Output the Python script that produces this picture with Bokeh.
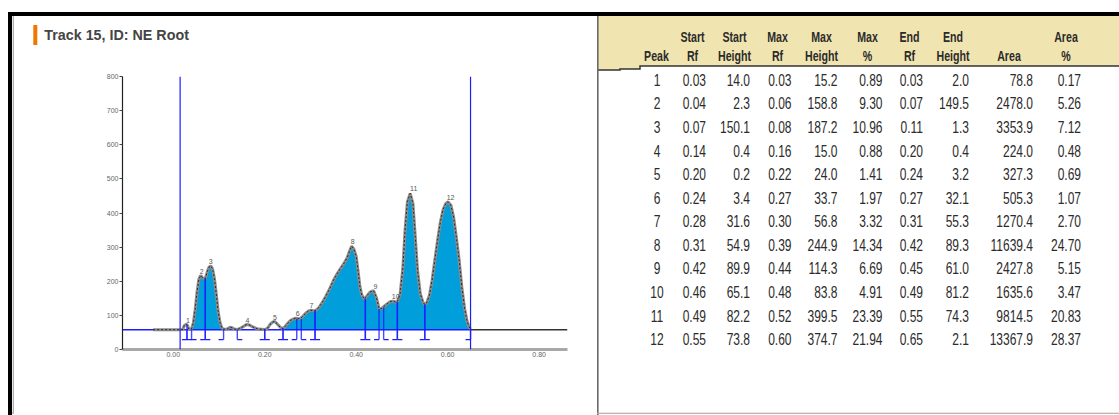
import numpy as np
from bokeh.plotting import figure
from bokeh.layouts import row, column
from bokeh.models import Range1d, FixedTicker, NumeralTickFormatter, Span, Div
from bokeh.core.properties import value
from bokeh.embed import file_html
from bokeh.resources import INLINE

# ---------------- lane 15 densitometry profile: Rf vs height above baseline ----------------
profile_rf = [-0.044, 0.015, 0.021, 0.024, 0.027, 0.030, 0.032, 0.034, 0.040, 0.044,
              0.048, 0.052, 0.056, 0.060, 0.064, 0.070, 0.074, 0.078, 0.082, 0.086,
              0.090, 0.094, 0.098, 0.102, 0.106, 0.110, 0.118, 0.124, 0.128, 0.133,
              0.140, 0.148, 0.155, 0.160, 0.166, 0.174, 0.185, 0.200, 0.206, 0.212,
              0.218, 0.222, 0.228, 0.234, 0.240, 0.245, 0.250, 0.256, 0.262, 0.268,
              0.272, 0.278, 0.284, 0.290, 0.296, 0.300, 0.305, 0.310, 0.318, 0.326,
              0.334, 0.342, 0.350, 0.358, 0.366, 0.374, 0.380, 0.386, 0.390, 0.395,
              0.400, 0.404, 0.408, 0.412, 0.418, 0.424, 0.430, 0.438, 0.444, 0.450,
              0.454, 0.458, 0.466, 0.474, 0.480, 0.486, 0.490, 0.496, 0.502, 0.507,
              0.512, 0.518, 0.524, 0.529, 0.534, 0.540, 0.546, 0.550, 0.554, 0.560,
              0.566, 0.572, 0.578, 0.584, 0.590, 0.596, 0.601, 0.607, 0.613, 0.619,
              0.625, 0.631, 0.637, 0.642, 0.646, 0.650]
profile_h = [0, 0, 1, 12, 15, 15.2, 9, 2, 2.3, 20,
             60, 110, 148, 158.8, 152, 149.5, 168, 183, 187.2, 178,
             150, 105, 55, 22, 6, 1.3, 2, 7, 6, 2,
             0.4, 5, 11, 15.0, 14, 8, 2, 0.4, 4, 16,
             23, 24.0, 16, 7, 3.2, 10, 18, 27, 31, 33.7,
             32.1, 33, 40, 49, 55, 56.8, 56, 55.3, 64, 80,
             99, 120, 144, 163, 180, 196, 210, 232, 244.9, 236,
             215, 172, 128, 102, 89.3, 100, 110, 114.3, 95, 62,
             61.0, 65.1, 74, 82, 83.8, 81.2, 82.2, 104, 180, 295,
             375, 399.5, 370, 275, 175, 106, 80, 74.3, 78, 100,
             145, 205, 262, 315, 352, 370, 374.7, 365, 330, 270,
             205, 124, 62, 28, 10, 2.1]

# ---------------- peak table ----------------
peak_no = list(range(1, 13))
start_rf = [0.03, 0.04, 0.07, 0.14, 0.20, 0.24, 0.28, 0.31, 0.42, 0.46, 0.49, 0.55]
start_h = [14.0, 2.3, 150.1, 0.4, 0.2, 3.4, 31.6, 54.9, 89.9, 65.1, 82.2, 73.8]
max_rf = [0.03, 0.06, 0.08, 0.16, 0.22, 0.27, 0.30, 0.39, 0.44, 0.48, 0.52, 0.60]
max_h = [15.2, 158.8, 187.2, 15.0, 24.0, 33.7, 56.8, 244.9, 114.3, 83.8, 399.5, 374.7]
max_pct = [0.89, 9.30, 10.96, 0.88, 1.41, 1.97, 3.32, 14.34, 6.69, 4.91, 23.39, 21.94]
end_rf = [0.03, 0.07, 0.11, 0.20, 0.24, 0.27, 0.31, 0.42, 0.45, 0.49, 0.55, 0.65]
end_h = [2.0, 149.5, 1.3, 0.4, 3.2, 32.1, 55.3, 89.3, 61.0, 81.2, 74.3, 2.1]
area = [78.8, 2478.0, 3353.9, 224.0, 327.3, 505.3, 1270.4, 11639.4, 2427.8, 1635.6, 9814.5, 13367.9]
area_pct = [0.17, 5.26, 7.12, 0.48, 0.69, 1.07, 2.70, 24.70, 5.15, 3.47, 20.83, 28.37]

head_line1 = ["", "Start", "Start", "Max", "Max", "Max", "End", "End", "", "Area"]
head_line2 = ["Peak", "Rf", "Height", "Rf", "Height", "%", "Rf", "Height", "Area", "%"]

TITLE = "Track 15, ID: NE Root"
x_ticks = [0.0, 0.2, 0.4, 0.6, 0.8]
y_ticks = [0, 100, 200, 300, 400, 500, 600, 700, 800]

BASELINE = 58          # detector baseline level
ORIGIN_RF = 0.015      # application line
FRONT_RF = 0.65        # solvent front
X_LO, X_HI = -0.111, 0.862
MARK_BOTTOM = 29       # level of the peak-boundary feet
CAP = 0.011            # half width of a boundary foot, in Rf
FILL_MIN = 30          # peaks lower than this are outlined only

FONT = "Liberation Sans"
BLUE = "#1c1cff"
INK = "#2b2b2b"

prf = np.array(profile_rf)
ph = np.array(profile_h)

# ======================= chromatogram =======================
p = figure(width=583, height=343, output_backend="svg", toolbar_location=None,
           x_range=Range1d(X_LO, X_HI), y_range=Range1d(0, 800),
           min_border_left=108, min_border_right=30, min_border_top=6, min_border_bottom=64)
p.grid.visible = False
p.outline_line_color = None
p.background_fill_color = "white"
p.border_fill_color = "white"

p.yaxis.ticker = FixedTicker(ticks=y_ticks)
p.yaxis.axis_line_color = "#222222"
p.yaxis.axis_line_width = 1.2
p.yaxis.major_tick_line_color = "#444444"
p.yaxis.major_tick_out = 3
p.yaxis.major_tick_in = 0
p.yaxis.minor_tick_line_color = None
p.yaxis.major_label_standoff = 1
p.xaxis.ticker = FixedTicker(ticks=x_ticks)
p.xaxis.formatter = NumeralTickFormatter(format="0.00")
p.xaxis.axis_line_color = "#a8a8a8"
p.xaxis.axis_line_width = 3
p.xaxis.major_tick_line_color = None
p.xaxis.major_tick_out = 0
p.xaxis.major_tick_in = 0
p.xaxis.minor_tick_line_color = None
p.xaxis.major_label_standoff = 2
for ax in (p.xaxis, p.yaxis):
    ax.major_label_text_font = FONT
    ax.major_label_text_font_size = "7px"
    ax.major_label_text_color = "#666666"

# filled areas of the major peaks (adjacent peaks merged into one band)
intervals = []
for s, e, h in zip(start_rf, end_rf, max_h):
    if h < FILL_MIN:
        continue
    if intervals and s - intervals[-1][1] < 0.02:
        intervals[-1][1] = e
    else:
        intervals.append([s, e])
for s, e in intervals:
    inside = (prf > s) & (prf < e)
    xs = np.concatenate([[s], prf[inside], [e]])
    hs = np.concatenate([[np.interp(s, prf, ph)], ph[inside], [np.interp(e, prf, ph)]])
    p.varea(x=xs, y1=BASELINE, y2=BASELINE + hs, fill_color="#009fdb")

# baseline
p.line(x=[X_LO, FRONT_RF], y=[BASELINE, BASELINE], line_color=BLUE, line_width=1.5)
p.line(x=[FRONT_RF, X_HI], y=[BASELINE, BASELINE], line_color="#333333", line_width=1.5)

# profile trace
p.line(x=prf, y=BASELINE + ph, line_color="#8c8c8c", line_width=3)
p.line(x=prf, y=BASELINE + ph, line_color="#1e1e1e", line_width=0.9, line_dash="2 2")

# peak boundaries with feet
p.segment(x0=start_rf, y0=MARK_BOTTOM, x1=start_rf, y1=[BASELINE + h for h in start_h],
          line_color=BLUE, line_width=1.4, line_alpha=0.8)
p.segment(x0=end_rf, y0=MARK_BOTTOM, x1=end_rf, y1=[BASELINE + h for h in end_h],
          line_color=BLUE, line_width=1.4, line_alpha=0.8)
p.segment(x0=start_rf, y0=MARK_BOTTOM, x1=[r + CAP for r in start_rf], y1=MARK_BOTTOM,
          line_color=BLUE, line_width=1.4)
p.segment(x0=[r - CAP for r in end_rf], y0=MARK_BOTTOM, x1=end_rf, y1=MARK_BOTTOM,
          line_color=BLUE, line_width=1.4)

# peak numbers
p.text(x=max_rf, y=[BASELINE + h for h in max_h], text=[str(n) for n in peak_no],
       x_offset=-1, y_offset=-2, text_align="left", text_baseline="bottom",
       text_font=value(FONT), text_font_size="7px", text_color="#555555")

# application line and solvent front
for loc in (ORIGIN_RF, FRONT_RF):
    p.add_layout(Span(location=loc, dimension="height", line_color=BLUE, line_width=1.2))


# ======================= framing, heading and peak table (inline SVG) =======================
def svg_open(w, h):
    return f'<svg xmlns="http://www.w3.org/2000/svg" width="{w}" height="{h}" style="display:block">'


def rect(x, y, w, h, fill):
    return f'<rect x="{x}" y="{y}" width="{w}" height="{h}" fill="{fill}"/>'


def txt(x, y, s, size, anchor="middle", bold=False, color=INK, squeeze=1.0):
    weight = "bold" if bold else "normal"
    return (f'<text transform="translate({x:.1f},{y:.1f}) scale({squeeze},1)" text-anchor="{anchor}" '
            f'font-family="{FONT}, Arial, sans-serif" font-size="{size}px" font-weight="{weight}" '
            f'fill="{color}">{s}</text>')


def panel(width, height, body):
    return Div(text=svg_open(width, height) + "".join(body) + "</svg>",
               width=width, height=height, margin=0)


# left edge of the frame
edge = panel(14, 415, [rect(8, 12, 6, 4, "#000"), rect(8, 12, 4, 403, "#000"),
                       rect(12.8, 16, 1, 397, "#9a9a9a"), rect(12, 412.6, 2, 1.2, "#b0b0b0")])

# heading above the chromatogram
head = panel(583, 70, [rect(0, 12, 583, 4, "#000"), rect(19.3, 25, 4, 20, "#f07800"),
                       txt(30.3, 39.6, TITLE, 14.3, anchor="start", bold=True, color="#444444")])

# bottom rule under the chromatogram
foot = panel(583, 2, [rect(0, 0, 583, 1.2, "#b0b0b0")])

# peak table
TW, TH = 522, 415
HEAD = "#f0e4b0"
head_x = [59.5, 95.5, 137.5, 180.5, 224.5, 270.5, 312.5, 356, 412, 469]
val_x = [60, 109, 153, 194.5, 240.5, 285.5, 326, 372, 436, 484]
val_anchor = ["middle"] + ["end"] * 9
ROW0, ROW_STEP = 80, 23.57
VAL_SIZE, HEAD_SIZE = 16, 14
VAL_SQ, HEAD_SQ = 0.75, 0.76               # narrow face

body = [rect(0, 16, TW, 50, HEAD), rect(0, 66, 43, 3, HEAD), rect(0, 69, 23, 1, HEAD),
        '<polyline points="0,70 23,70 23,69 43,69 43,66 522,66" fill="none" '
        'stroke="#333333" stroke-width="1.5"/>',
        rect(0, 12, TW, 4, "#000"),
        rect(0, 16, 1.6, TH - 16, "#6a6a6a"),
        rect(0, 412.7, TW, 1.2, "#b0b0b0")]
for hx, l1, l2 in zip(head_x, head_line1, head_line2):
    if l1:
        body.append(txt(hx, 36.5 + 0.36 * HEAD_SIZE, l1, HEAD_SIZE, bold=True, squeeze=HEAD_SQ))
    body.append(txt(hx, 56 + 0.36 * HEAD_SIZE, l2, HEAD_SIZE, bold=True, squeeze=HEAD_SQ))

columns = [[str(n) for n in peak_no],
           [f"{v:.2f}" for v in start_rf],
           [f"{v:.1f}" for v in start_h],
           [f"{v:.2f}" for v in max_rf],
           [f"{v:.1f}" for v in max_h],
           [f"{v:.2f}" for v in max_pct],
           [f"{v:.2f}" for v in end_rf],
           [f"{v:.1f}" for v in end_h],
           [f"{v:.1f}" for v in area],
           [f"{v:.2f}" for v in area_pct]]
for vx, anc, vals in zip(val_x, val_anchor, columns):
    for i, s in enumerate(vals):
        yc = ROW0 + ROW_STEP * i
        body.append(txt(vx, yc + 0.36 * VAL_SIZE, s, VAL_SIZE, anchor=anc, squeeze=VAL_SQ))
table = panel(TW, TH, body)

layout = row(edge, column(head, p, foot, spacing=0), table, spacing=0)
open("out.html", "w").write(file_html(layout, INLINE))
